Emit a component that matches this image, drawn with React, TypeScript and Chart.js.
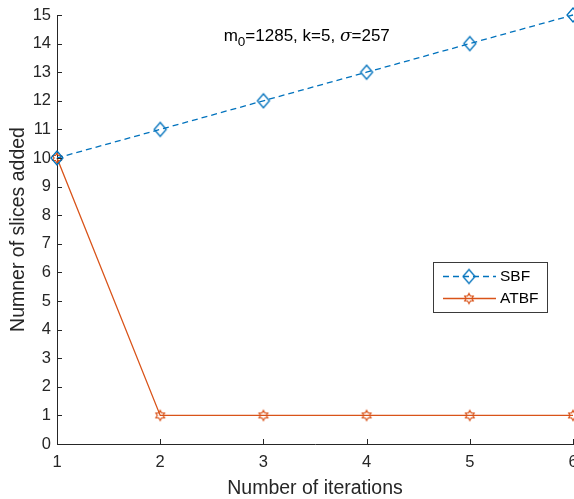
import React, { useEffect, useRef } from "react";
import { Chart, registerables } from "chart.js";

Chart.register(...registerables);

const iterations = [1, 2, 3, 4, 5, 6];
const sbfValues = [10, 11, 12, 13, 14, 15];
const atbfValues = [10, 1, 1, 1, 1, 1];
const yTicks = [0, 1, 2, 3, 4, 5, 6, 7, 8, 9, 10, 11, 12, 13, 14, 15];
const xTicks = [1, 2, 3, 4, 5, 6];
const seriesNames = ["SBF", "ATBF"];

const BLUE = "#0072BD";
const ORANGE = "#D95319";
const AXIS = "#262626";
const FONT = "'Liberation Sans', Arial, Helvetica, sans-serif";

function makeHexagram(color: string): HTMLCanvasElement {
  const c = document.createElement("canvas");
  c.width = 14;
  c.height = 14;
  const ctx = c.getContext("2d")!;
  const cx = 7, cy = 7, R = 5, r = R / Math.sqrt(3);
  ctx.beginPath();
  for (let i = 0; i < 12; i++) {
    const ang = -Math.PI / 2 + (i * Math.PI) / 6;
    const rad = i % 2 === 0 ? R : r;
    const x = cx + rad * Math.cos(ang);
    const y = cy + rad * Math.sin(ang);
    if (i === 0) ctx.moveTo(x, y);
    else ctx.lineTo(x, y);
  }
  ctx.closePath();
  ctx.strokeStyle = color;
  ctx.lineWidth = 1.2;
  ctx.stroke();
  return c;
}

function makeDiamond(color: string): HTMLCanvasElement {
  const c = document.createElement("canvas");
  c.width = 16;
  c.height = 18;
  const ctx = c.getContext("2d")!;
  const cx = 8, cy = 9, hw = 6, hh = 7;
  ctx.beginPath();
  ctx.moveTo(cx, cy - hh);
  ctx.lineTo(cx + hw, cy);
  ctx.lineTo(cx, cy + hh);
  ctx.lineTo(cx - hw, cy);
  ctx.closePath();
  ctx.strokeStyle = color;
  ctx.lineWidth = 1.3;
  ctx.stroke();
  return c;
}

export default function App() {
  const ref = useRef<HTMLCanvasElement | null>(null);

  useEffect(() => {
    if (!ref.current) return;
    document.body.style.margin = "0";
    const hex = makeHexagram(ORANGE);
    const dia = makeDiamond(BLUE);

    const overlay = {
      id: "overlay",
      afterDraw(chart: any) {
        const ctx = chart.ctx as CanvasRenderingContext2D;
        const xs = chart.scales.x;
        const ys = chart.scales.y;
        const area = chart.chartArea;
        ctx.save();
        // inward ticks
        ctx.strokeStyle = AXIS;
        ctx.lineWidth = 1;
        ctx.beginPath();
        for (const v of yTicks) {
          const py = Math.round(ys.getPixelForValue(v)) + 0.5;
          ctx.moveTo(area.left, py);
          ctx.lineTo(area.left + 5, py);
        }
        for (const v of xTicks) {
          const px = Math.round(xs.getPixelForValue(v)) + 0.5;
          ctx.moveTo(px, area.bottom);
          ctx.lineTo(px, area.bottom - 5);
        }
        ctx.stroke();

        // annotation text
        const ax = xs.getPixelForValue(3.42);
        const ay = ys.getPixelForValue(14.25);
        const parts: { t: string; f: string; dy: number }[] = [
          { t: "m", f: `17px ${FONT}`, dy: 0 },
          { t: "0", f: `13.5px ${FONT}`, dy: 6 },
          { t: "=1285, k=5, ", f: `17px ${FONT}`, dy: 0 },
          { t: "σ", f: `italic 17px 'DejaVu Serif', serif`, dy: 0 },
          { t: "=257", f: `17px ${FONT}`, dy: 0 },
        ];
        let total = 0;
        for (const p of parts) {
          ctx.font = p.f;
          total += ctx.measureText(p.t).width;
        }
        let cx = ax - total / 2;
        ctx.fillStyle = "#000";
        ctx.textBaseline = "middle";
        ctx.textAlign = "left";
        for (const p of parts) {
          ctx.font = p.f;
          ctx.fillText(p.t, cx, ay + p.dy);
          cx += ctx.measureText(p.t).width;
        }

        // legend
        const lx = 433.5, ly = 262.5, lw = 114, lh = 50;
        ctx.fillStyle = "#fff";
        ctx.fillRect(lx, ly, lw, lh);
        ctx.strokeStyle = "#3a3a3a";
        ctx.lineWidth = 1;
        ctx.strokeRect(lx, ly, lw, lh);
        const rows = [
          { y: 276, color: BLUE, dash: [6, 4], img: dia },
          { y: 298, color: ORANGE, dash: [], img: hex },
        ];
        rows.forEach((row, i) => {
          ctx.strokeStyle = row.color;
          ctx.lineWidth = 1.3;
          ctx.setLineDash(row.dash);
          ctx.beginPath();
          ctx.moveTo(443, row.y + 0.5);
          ctx.lineTo(496, row.y + 0.5);
          ctx.stroke();
          ctx.setLineDash([]);
          ctx.drawImage(row.img, 469 - row.img.width / 2, row.y - row.img.height / 2 + 0.5);
          ctx.fillStyle = "#000";
          ctx.font = `15.5px ${FONT}`;
          ctx.textBaseline = "middle";
          ctx.fillText(seriesNames[i], 500, row.y + 1);
        });
        ctx.restore();
      },
    };

    const chart = new Chart(ref.current, {
      type: "line",
      data: {
        datasets: [
          {
            label: seriesNames[0],
            data: iterations.map((x, i) => ({ x, y: sbfValues[i] })),
            borderColor: BLUE,
            borderWidth: 1.3,
            borderDash: [6, 4],
            pointStyle: dia as any,
            pointRadius: 7,
            backgroundColor: "transparent",
            clip: false as any,
          },
          {
            label: seriesNames[1],
            data: iterations.map((x, i) => ({ x, y: atbfValues[i] })),
            borderColor: ORANGE,
            borderWidth: 1.3,
            pointStyle: hex as any,
            pointRadius: 6,
            backgroundColor: "transparent",
            clip: false as any,
          },
        ],
      },
      options: {
        animation: false,
        responsive: false,
        events: [],
        layout: { autoPadding: false, padding: { top: 15, right: 1, left: 0, bottom: 0 } },
        plugins: {
          legend: { display: false },
          tooltip: { enabled: false },
        },
        scales: {
          x: {
            type: "linear",
            min: 1,
            max: 6,
            afterFit: (s: any) => {
              s.height = 55;
              s.paddingRight = 0;
              s.paddingLeft = 0;
            },
            afterBuildTicks: (s: any) => {
              s.ticks = xTicks.map((v) => ({ value: v }));
            },
            grid: { display: true, drawOnChartArea: false, drawTicks: false },
            border: { display: true, color: AXIS, width: 1 },
            ticks: {
              color: AXIS,
              padding: 9,
              font: { family: FONT, size: 16.5 },
              maxRotation: 0,
            },
            title: {
              display: true,
              text: "Number of iterations",
              color: AXIS,
              font: { family: FONT, size: 19.5 },
              padding: { top: 0, bottom: -1.5 },
            },
          },
          y: {
            type: "linear",
            min: 0,
            max: 15,
            afterFit: (s: any) => {
              s.width = 57;
              s.paddingTop = 0;
              s.paddingBottom = 0;
            },
            afterBuildTicks: (s: any) => {
              s.ticks = yTicks.map((v) => ({ value: v }));
            },
            grid: { display: true, drawOnChartArea: false, drawTicks: false },
            border: { display: true, color: AXIS, width: 1 },
            ticks: {
              color: AXIS,
              padding: 6,
              font: { family: FONT, size: 16.5 },
            },
            title: {
              display: true,
              text: "Numner of slices added",
              color: AXIS,
              font: { family: FONT, size: 19.5 },
              padding: { top: 7, bottom: 0 },
            },
          },
        },
      },
      plugins: [overlay],
    });
    return () => chart.destroy();
  }, []);

  return (
    <div style={{ position: "absolute", left: 0, top: 0, width: 574, height: 499, background: "#fff" }}>
      <canvas ref={ref} width={574} height={499} style={{ width: 574, height: 499, display: "block" }} />
    </div>
  );
}
